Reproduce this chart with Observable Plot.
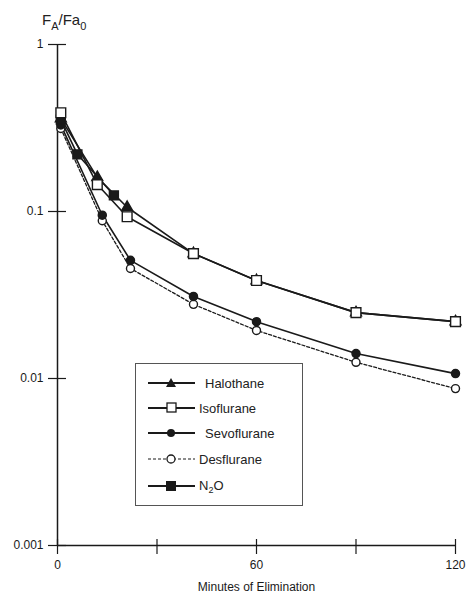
<!DOCTYPE html>
<html>
<head>
<meta charset="utf-8">
<script src="https://cdn.jsdelivr.net/npm/d3@7"></script>
<script src="https://cdn.jsdelivr.net/npm/@observablehq/plot@0.6"></script>
<style>
  html, body { margin: 0; padding: 0; background: #fff; }
  #wrap { position: relative; width: 466px; height: 593px; font-family: "Liberation Sans", Arial, sans-serif; color: #222; }
  #ylab { position: absolute; left: 42px; top: 12px; font-size: 15px; line-height: 15px; }
  #ylab sub { font-size: 11px; vertical-align: -5px; }
  #legend { position: absolute; left: 135px; top: 363px; width: 166px; height: 141px; border: 1.3px solid #555; background: #fff; }
  .li { position: absolute; left: 12px; height: 16px; display: flex; align-items: center; font-size: 13px; }
  .li svg { margin-right: 4px; }
  .li sub { font-size: 9px; vertical-align: -3px; }
</style>
</head>
<body>
<div id="wrap"></div>
<script>
// Times (minutes) and FA/FA0 values
const halothaneT = [1, 12, 21, 41, 60, 90, 120];
const halothaneV = [0.36, 0.16, 0.106, 0.056, 0.0386, 0.0248, 0.0219];
const isofluraneT = [1, 12, 21, 41, 60, 90, 120];
const isofluraneV = [0.39, 0.145, 0.093, 0.056, 0.0386, 0.0248, 0.0219];
const sevofluraneT = [1, 13.5, 22, 41, 60, 90, 120];
const sevofluraneV = [0.33, 0.095, 0.051, 0.031, 0.0219, 0.0141, 0.0107];
const desfluraneT = [1, 13.5, 22, 41, 60, 90, 120];
const desfluraneV = [0.314, 0.088, 0.0456, 0.0278, 0.0194, 0.0125, 0.0087];
const n2oT = [1, 6, 17];
const n2oV = [0.355, 0.22, 0.125];

const yTicks = [1, 0.1, 0.01, 0.001];
const yTickLabels = ["1", "0.1", "0.01", "0.001"];
const xTicks = [0, 30, 60, 90, 120];
const xTickLabels = [0, 60, 120];
const xTitle = "Minutes of Elimination";

const toRows = (T, V) => T.map((t, i) => ({t, v: V[i]}));
const hal = toRows(halothaneT, halothaneV);
const iso = toRows(isofluraneT, isofluraneV);
const sev = toRows(sevofluraneT, sevofluraneV);
const des = toRows(desfluraneT, desfluraneV);
const n2o = toRows(n2oT, n2oV);

const ink = "#1a1a1a";
const font = "Liberation Sans, Arial, sans-serif";

const chart = Plot.plot({
  width: 466,
  height: 593,
  marginLeft: 57,
  marginRight: 11,
  marginTop: 44,
  marginBottom: 48,
  style: {fontFamily: font, fontSize: "12px", color: ink, background: "#fff"},
  x: {domain: [0, 120]},
  y: {type: "log", domain: [0.001, 1]},
  marks: [
    Plot.ruleX([0], {stroke: ink, strokeWidth: 1.5}),
    Plot.ruleY([0.001], {stroke: ink, strokeWidth: 1.5}),
    // y ticks crossing the axis
    Plot.axisY({ticks: yTicks, tickSize: -9, tickFormat: () => "", label: null, stroke: ink, strokeWidth: 1.2}),
    Plot.axisY({ticks: yTicks, tickSize: 9, tickPadding: 5, tickFormat: (d, i) => yTickLabels[yTicks.indexOf(d)], label: null, stroke: ink, strokeWidth: 1.2, fontSize: 12, fill: ink}),
    // x ticks crossing the axis
    Plot.axisX({ticks: xTicks, tickSize: -6, tickFormat: () => "", label: null, stroke: ink, strokeWidth: 1.2}),
    Plot.axisX({ticks: xTicks, tickSize: 9, tickPadding: 6, tickFormat: d => xTickLabels.includes(d) ? String(d) : "", label: null, stroke: ink, strokeWidth: 1.2, fontSize: 12, fill: ink}),
    Plot.text([xTitle], {frameAnchor: "bottom", dy: 45, text: d => d, fontSize: 12, fill: ink}),
    // series
    Plot.line(des, {x: "t", y: "v", stroke: ink, strokeWidth: 1.3, strokeDasharray: "3,2"}),
    Plot.line(sev, {x: "t", y: "v", stroke: ink, strokeWidth: 1.6}),
    Plot.line(hal, {x: "t", y: "v", stroke: ink, strokeWidth: 1.6}),
    Plot.line(iso, {x: "t", y: "v", stroke: ink, strokeWidth: 1.6}),
    Plot.line(n2o, {x: "t", y: "v", stroke: ink, strokeWidth: 1.6}),
    Plot.dot(des, {x: "t", y: "v", r: 4, fill: "#fff", stroke: ink, strokeWidth: 1.4}),
    Plot.dot(sev, {x: "t", y: "v", r: 4, fill: ink, stroke: ink}),
    Plot.dot(hal, {x: "t", y: "v", symbol: "triangle", r: 4, fill: ink, stroke: ink}),
    Plot.dot(n2o, {x: "t", y: "v", symbol: "square", r: 5, fill: ink, stroke: ink}),
    Plot.dot(iso, {x: "t", y: "v", symbol: "square", r: 5.5, fill: "#fff", stroke: ink, strokeWidth: 1.4})
  ]
});

const wrap = document.getElementById("wrap");
wrap.appendChild(chart);

const ylab = document.createElement("div");
ylab.id = "ylab";
ylab.innerHTML = "F<sub>A</sub>/Fa<sub>0</sub>";
wrap.appendChild(ylab);

// Legend
const legendItems = [
  {name: "Halothane", marker: "tri", dash: null},
  {name: "Isoflurane", marker: "sqo", dash: null},
  {name: "Sevoflurane", marker: "cirf", dash: null},
  {name: "Desflurane", marker: "ciro", dash: "3,2"},
  {name: "N<sub>2</sub>O", marker: "sqf", dash: null}
];
const legend = document.createElement("div");
legend.id = "legend";
const tops = [11, 36, 61, 87, 114];
const textShift = [10, 4, 10, 4, 4];
legendItems.forEach((it, i) => {
  const row = document.createElement("div");
  row.className = "li";
  row.style.top = tops[i] + "px";
  let m = "";
  if (it.marker === "tri") m = `<path d="M23,3 L28,12 L18,12 Z" fill="${ink}"/>`;
  if (it.marker === "sqo") m = `<rect x="19" y="3" width="9" height="9" fill="#fff" stroke="${ink}" stroke-width="1.3"/>`;
  if (it.marker === "cirf") m = `<circle cx="23" cy="8" r="4" fill="${ink}"/>`;
  if (it.marker === "ciro") m = `<circle cx="23" cy="8" r="4" fill="#fff" stroke="${ink}" stroke-width="1.3"/>`;
  if (it.marker === "sqf") m = `<rect x="18" y="3" width="10" height="10" fill="${ink}"/>`;
  const dash = it.dash ? `stroke-dasharray="${it.dash}"` : "";
  row.innerHTML = `<svg width="${47 + textShift[i] - 4}" height="16"><line x1="0" y1="8" x2="47" y2="8" stroke="${ink}" stroke-width="${it.dash ? 1.2 : 1.8}" ${dash}/>${m}</svg><span>${it.name}</span>`;
  legend.appendChild(row);
});
wrap.appendChild(legend);
</script>
</body>
</html>
